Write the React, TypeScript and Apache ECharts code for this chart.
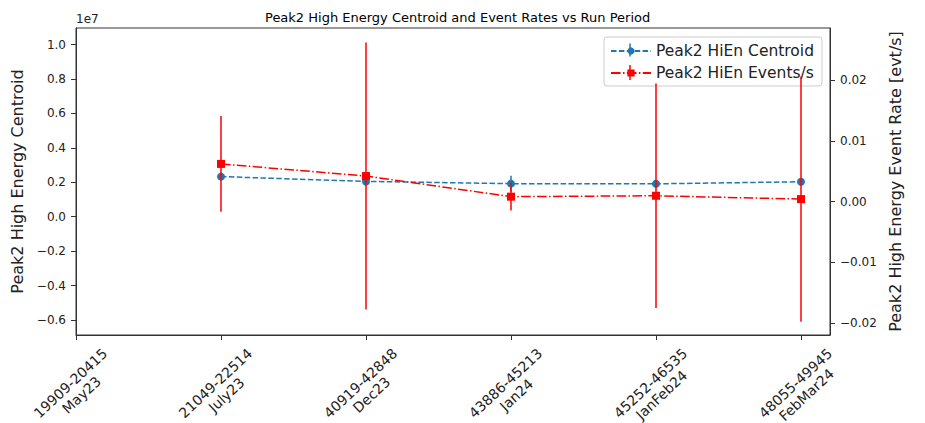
import React, { useEffect, useRef } from "react";
import * as echarts from "echarts";

const categories = [
  "19909-20415\nMay23",
  "21049-22514\nJuly23",
  "40919-42848\nDec23",
  "43886-45213\nJan24",
  "45252-46535\nJanFeb24",
  "48055-49945\nFebMar24",
];
const runIndex = [1, 2, 3, 4, 5];
const centroid = [2.33e6, 2.05e6, 1.92e6, 1.91e6, 2.03e6];
const centroidErr = [0.1e6, 0.1e6, 0.465e6, 0.1e6, 0.1e6];
const rate = [0.0062, 0.0042, 0.0008, 0.00095, 0.0004];
const rateErr = [0.0079, 0.022, 0.0023, 0.0185, 0.0202];
const leftTicks = [-6e6, -4e6, -2e6, 0, 2e6, 4e6, 6e6, 8e6, 1e7];
const rightTicks = [-0.02, -0.01, 0, 0.01, 0.02];
const xTicks = [0, 1, 2, 3, 4, 5];

const FONT = "DejaVu Sans";
const BLUE = "#1f77b4";
const RED = "#ff0000";
const AX = "#333";

const minus = (s: string) => s.replace("-", "\u2212");

function errRender(color: string) {
  return (params: any, api: any) => {
    const x = api.value(0);
    const p1 = api.coord([x, api.value(1)]);
    const p2 = api.coord([x, api.value(2)]);
    return {
      type: "line",
      shape: { x1: p1[0], y1: p1[1], x2: p2[0], y2: p2[1] },
      style: { stroke: color, lineWidth: 1.5 },
    };
  };
}

export default function App() {
  const ref = useRef<HTMLDivElement>(null);
  useEffect(() => {
    if (!ref.current) return;
    const chart = echarts.init(ref.current, null, { renderer: "svg" });
    const option: any = {
      animation: false,
      backgroundColor: "#fff",
      textStyle: { fontFamily: FONT },
      title: {
        text: "Peak2 High Energy Centroid and Event Rates vs Run Period",
        left: 260,
        top: 6,
        textStyle: { fontFamily: FONT, fontSize: 13, fontWeight: "normal", color: "#000" },
      },
      graphic: [
        {
          type: "text",
          left: 76,
          top: 13,
          style: { text: "1e7", fontFamily: FONT, fontSize: 12, fill: "#222" },
        },
        {
          type: "line",
          z: 20,
          shape: { x1: 630, y1: 43.5, x2: 630, y2: 56.5 },
          style: { stroke: BLUE, lineWidth: 1.5 },
        },
        {
          type: "line",
          z: 20,
          shape: { x1: 630, y1: 65, x2: 630, y2: 80 },
          style: { stroke: RED, lineWidth: 1.5 },
        },
      ],
      legend: {
        orient: "vertical",
        right: 103,
        top: 37,
        padding: [6, 8, 5, 6],
        itemGap: 6,
        itemWidth: 40,
        itemHeight: 9,
        borderColor: "#ccc",
        borderWidth: 1,
        borderRadius: 3,
        backgroundColor: "rgba(255,255,255,0.8)",
        textStyle: { fontFamily: FONT, fontSize: 15.5, color: "#222" },
        data: ["Peak2 HiEn Centroid", "Peak2 HiEn Events/s"],
      },
      grid: {
        left: 76,
        right: 95,
        top: 28,
        bottom: 88,
        containLabel: false,
        outerBoundsMode: "none",
        show: true,
        borderColor: AX,
        borderWidth: 1,
        backgroundColor: "transparent",
      },
      xAxis: {
        type: "value",
        min: 0,
        max: 5.2,
        splitLine: { show: false },
        axisLine: { show: true, onZero: false, lineStyle: { color: AX } },
        axisTick: { show: true, length: 5, customValues: xTicks, lineStyle: { color: AX } },
        axisLabel: {
          customValues: xTicks,
          rotate: 43,
          align: "center",
          verticalAlign: "middle",
          margin: 54,
          fontFamily: FONT,
          fontSize: 14,
          color: "#222",
          lineHeight: 16,
          formatter: (v: number) => categories[Math.round(v)] ?? "",
        },
      },
      yAxis: [
        {
          type: "value",
          min: -6.87e6,
          max: 1.096e7,
          position: "left",
          splitLine: { show: false },
          axisLine: { show: true, onZero: false, lineStyle: { color: AX } },
          axisTick: { show: true, length: 5, customValues: leftTicks, lineStyle: { color: AX } },
          axisLabel: {
            customValues: leftTicks,
            margin: 10,
            fontFamily: FONT,
            fontSize: 12,
            color: "#222",
            formatter: (v: number) => minus((v / 1e7).toFixed(1)),
          },
          name: "Peak2 High Energy Centroid",
          nameLocation: "middle",
          nameRotate: 90,
          nameGap: 49,
          nameTextStyle: { fontFamily: FONT, fontSize: 16, color: "#222" },
        },
        {
          type: "value",
          min: -0.022,
          max: 0.0286,
          position: "right",
          splitLine: { show: false },
          axisLine: { show: true, onZero: false, lineStyle: { color: AX } },
          axisTick: { show: true, length: 5, customValues: rightTicks, lineStyle: { color: AX } },
          axisLabel: {
            customValues: rightTicks,
            margin: 10,
            fontFamily: FONT,
            fontSize: 12,
            color: "#222",
            formatter: (v: number) => minus((Math.abs(v) < 1e-9 ? 0 : v).toFixed(2)),
          },
          name: "Peak2 High Energy Event Rate [evt/s]",
          nameLocation: "middle",
          nameRotate: 90,
          nameGap: 53,
          nameTextStyle: { fontFamily: FONT, fontSize: 16, color: "#222" },
        },
      ],
      series: [
        {
          name: "centroidErr",
          type: "custom",
          xAxisIndex: 0,
          yAxisIndex: 0,
          z: 2,
          renderItem: errRender(BLUE),
          encode: { x: 0, y: [1, 2] },
          data: runIndex.map((x, i) => [x, centroid[i] - centroidErr[i], centroid[i] + centroidErr[i]]),
        },
        {
          name: "Peak2 HiEn Centroid",
          type: "line",
          yAxisIndex: 0,
          z: 3,
          symbol: "circle",
          symbolSize: 8,
          itemStyle: { color: BLUE },
          lineStyle: { color: BLUE, width: 1.5, type: [5.5, 2.4] },
          data: runIndex.map((x, i) => [x, centroid[i]]),
        },
        {
          name: "rateErr",
          type: "custom",
          xAxisIndex: 0,
          yAxisIndex: 1,
          z: 4,
          renderItem: errRender(RED),
          encode: { x: 0, y: [1, 2] },
          data: runIndex.map((x, i) => [x, rate[i] - rateErr[i], rate[i] + rateErr[i]]),
        },
        {
          name: "Peak2 HiEn Events/s",
          type: "line",
          yAxisIndex: 1,
          z: 5,
          symbol: "rect",
          symbolSize: 8,
          itemStyle: { color: RED },
          lineStyle: { color: RED, width: 1.5, type: [9.6, 2.4, 1.5, 2.4] },
          data: runIndex.map((x, i) => [x, rate[i]]),
        },
      ],
    };
    chart.setOption(option);
    return () => chart.dispose();
  }, []);
  return (
    <div
      ref={ref}
      style={{ position: "fixed", left: 0, top: 0, width: 925, height: 423, background: "#fff" }}
    />
  );
}
